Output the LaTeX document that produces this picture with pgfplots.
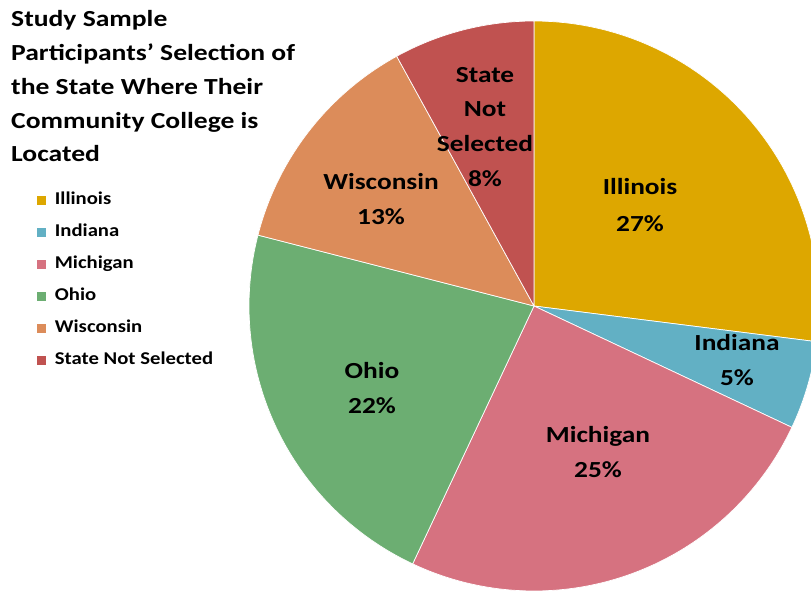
\documentclass[border=0pt]{standalone}
\usepackage{pgfplots}
\pgfplotsset{compat=1.18}
\usepackage{graphicx}
\usepackage{fontspec}
\setmainfont{Carlito}
\definecolor{cIL}{RGB}{221,167,0}
\definecolor{cIN}{RGB}{98,176,196}
\definecolor{cMI}{RGB}{214,114,128}
\definecolor{cOH}{RGB}{108,174,114}
\definecolor{cWI}{RGB}{220,140,90}
\definecolor{cNS}{RGB}{192,82,80}
\newcommand{\hs}[2]{\scalebox{#1}[1]{#2}}
% slice: colour, cumulative start (%), value (%)
\newcommand{\pieslice}[3]{%
  \addplot[fill=#1, draw=white, line width=0.7pt, domain={90-3.6*(#2+#3)}:{90-3.6*#2}, samples=80, variable=\t]
    ({534+285*cos(\t)},{284+285*sin(\t)}) -- (axis cs:534,284) -- cycle;}
\newcommand{\legent}[1]{\addlegendentry{\hs{1.15}{#1}}}
\begin{document}
\begin{tikzpicture}
\begin{axis}[
  x=1pt, y=1pt,
  xmin=0, xmax=811, ymin=0, ymax=590,
  hide axis,
  clip=true,
  legend image code/.code={\fill[#1] (0pt,-5pt) rectangle (10pt,5pt);},
  legend style={draw=none, fill=none, at={(axis cs:36,590-192)}, anchor=north west,
    font=\fontsize{18}{18}\selectfont\bfseries, row sep=16.6pt, column sep=8pt, inner sep=0pt,
    cells={anchor=west},
    nodes={inner sep=0pt, text height=12pt, text depth=3.4pt}},
]
\path (axis cs:0,0) rectangle (axis cs:811,590);
\pieslice{cIL}{0}{27}
\legent{Illinois}
\pieslice{cIN}{27}{5}
\legent{Indiana}
\pieslice{cMI}{32}{25}
\legent{Michigan}
\pieslice{cOH}{57}{22}
\legent{Ohio}
\pieslice{cWI}{79}{13}
\legent{Wisconsin}
\pieslice{cNS}{92}{8}
\legent{State Not Selected}
\begin{scope}[every node/.style={anchor=base, inner sep=0pt, font=\fontsize{23}{23}\selectfont\bfseries}]
\node at (axis cs:640,590-195) {\hs{1.19}{Illinois}};
\node at (axis cs:640,590-232) {\hs{1.19}{27\%}};
\node at (axis cs:737,590-350) {\hs{1.19}{Indiana}};
\node at (axis cs:737,590-385) {\hs{1.19}{5\%}};
\node at (axis cs:598,590-442) {\hs{1.19}{Michigan}};
\node at (axis cs:598,590-477) {\hs{1.19}{25\%}};
\node at (axis cs:372,590-378) {\hs{1.19}{Ohio}};
\node at (axis cs:372,590-413) {\hs{1.19}{22\%}};
\node at (axis cs:381,590-190) {\hs{1.19}{Wisconsin}};
\node at (axis cs:381,590-225) {\hs{1.19}{13\%}};
\node at (axis cs:485,590-83) {\hs{1.19}{State}};
\node at (axis cs:485,590-117) {\hs{1.19}{Not}};
\node at (axis cs:485,590-152) {\hs{1.19}{Selected}};
\node at (axis cs:485,590-187) {\hs{1.19}{8\%}};
\end{scope}
\begin{scope}[every node/.style={anchor=base west, inner sep=0pt, font=\fontsize{23}{23}\selectfont\bfseries}]
\node at (axis cs:11,590-27) {\hs{1.2}{Study Sample}};
\node at (axis cs:11,590-61) {\hs{1.2}{Participants’ Selection of}};
\node at (axis cs:11,590-95) {\hs{1.2}{the State Where Their}};
\node at (axis cs:11,590-129) {\hs{1.2}{Community College is}};
\node at (axis cs:11,590-162) {\hs{1.2}{Located}};
\end{scope}
\end{axis}
\end{tikzpicture}
\end{document}
